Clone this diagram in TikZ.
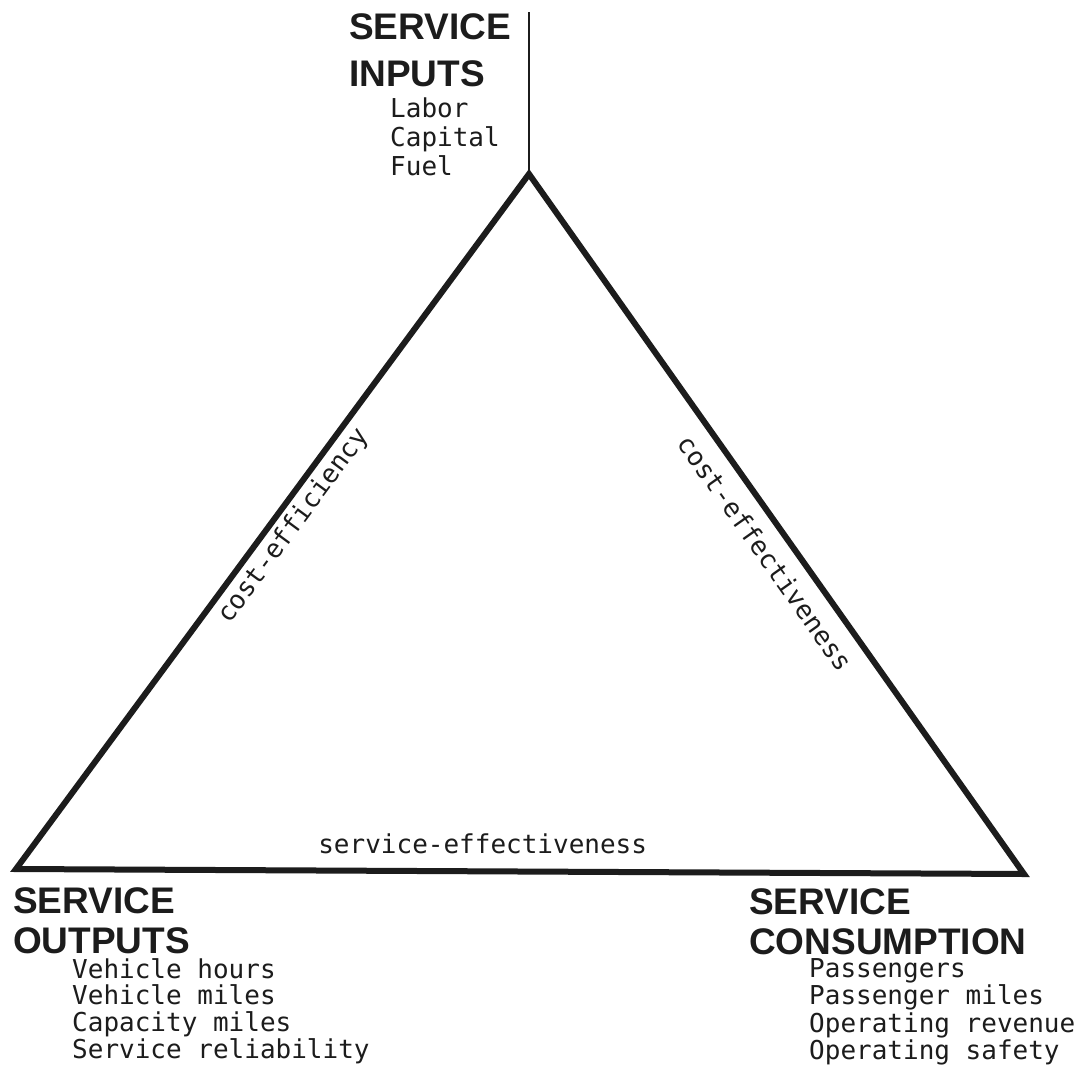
\documentclass[tikz,border=0pt]{standalone}
\usepackage{fontspec}
\newfontfamily\headfont{Liberation Sans}
\newfontfamily\typefont{DejaVu Sans Mono}
\definecolor{ink}{HTML}{1C1C1C}
\tikzset{
  edgeline/.style={draw=ink, line width=6pt, line join=miter},
  axisline/.style={draw=ink, line width=1.5pt},
  heading/.style={anchor=north west, inner sep=0pt, align=left, text=ink},
  itemlist/.style={anchor=north west, inner sep=0pt, align=left, text=ink,
    font=\typefont\fontsize{26}{27}\selectfont},
  edgelabel/.style={inner sep=0pt, text=ink, font=\typefont\fontsize{26}{27}\selectfont}
}
\begin{document}
\begin{tikzpicture}[x=1pt,y=-1pt]
\useasboundingbox (0,0) rectangle (1085,1090);
\fill[white] (0,0) rectangle (1085,1090);
% vertices
\coordinate (top) at (529,12);
\coordinate (A) at (529,174);
\coordinate (BL) at (16,869);
\coordinate (BR) at (1024,874);
% vertical axis
\draw[axisline] (top) -- (A);
% triangle with edge labels
\draw[edgeline] (BL) -- node[pos=0.51, sloped, below=4pt, edgelabel] (ceff) {cost-efficiency}
  (A) -- node[pos=0.52, sloped, below=13pt, edgelabel] (cefv) {cost-effectiveness}
  (BR) -- node[pos=0.537, above=14pt, edgelabel] (seff) {service-effectiveness}
  (BL) -- cycle;
% corner texts
\node[heading, font=\headfont\bfseries\fontsize{37}{47}\selectfont] (inh) at (349,13) {SERVICE\\INPUTS};
\node[itemlist, font=\typefont\fontsize{26}{29}\selectfont] (inl) at (390,98) {Labor\\Capital\\Fuel};
\node[heading, font=\headfont\bfseries\fontsize{37}{40}\selectfont] (outh) at (13,887) {SERVICE\\OUTPUTS};
\node[itemlist, font=\typefont\fontsize{26}{26.7}\selectfont] (outl) at (72,958) {Vehicle hours\\Vehicle miles\\Capacity miles\\Service reliability};
\node[heading, font=\headfont\bfseries\fontsize{37}{40}\selectfont] (conh) at (749,888) {SERVICE\\CONSUMPTION};
\node[itemlist, font=\typefont\fontsize{26}{27.5}\selectfont] (conl) at (809,958) {Passengers\\Passenger miles\\Operating revenue\\Operating safety};
\end{tikzpicture}
\end{document}
